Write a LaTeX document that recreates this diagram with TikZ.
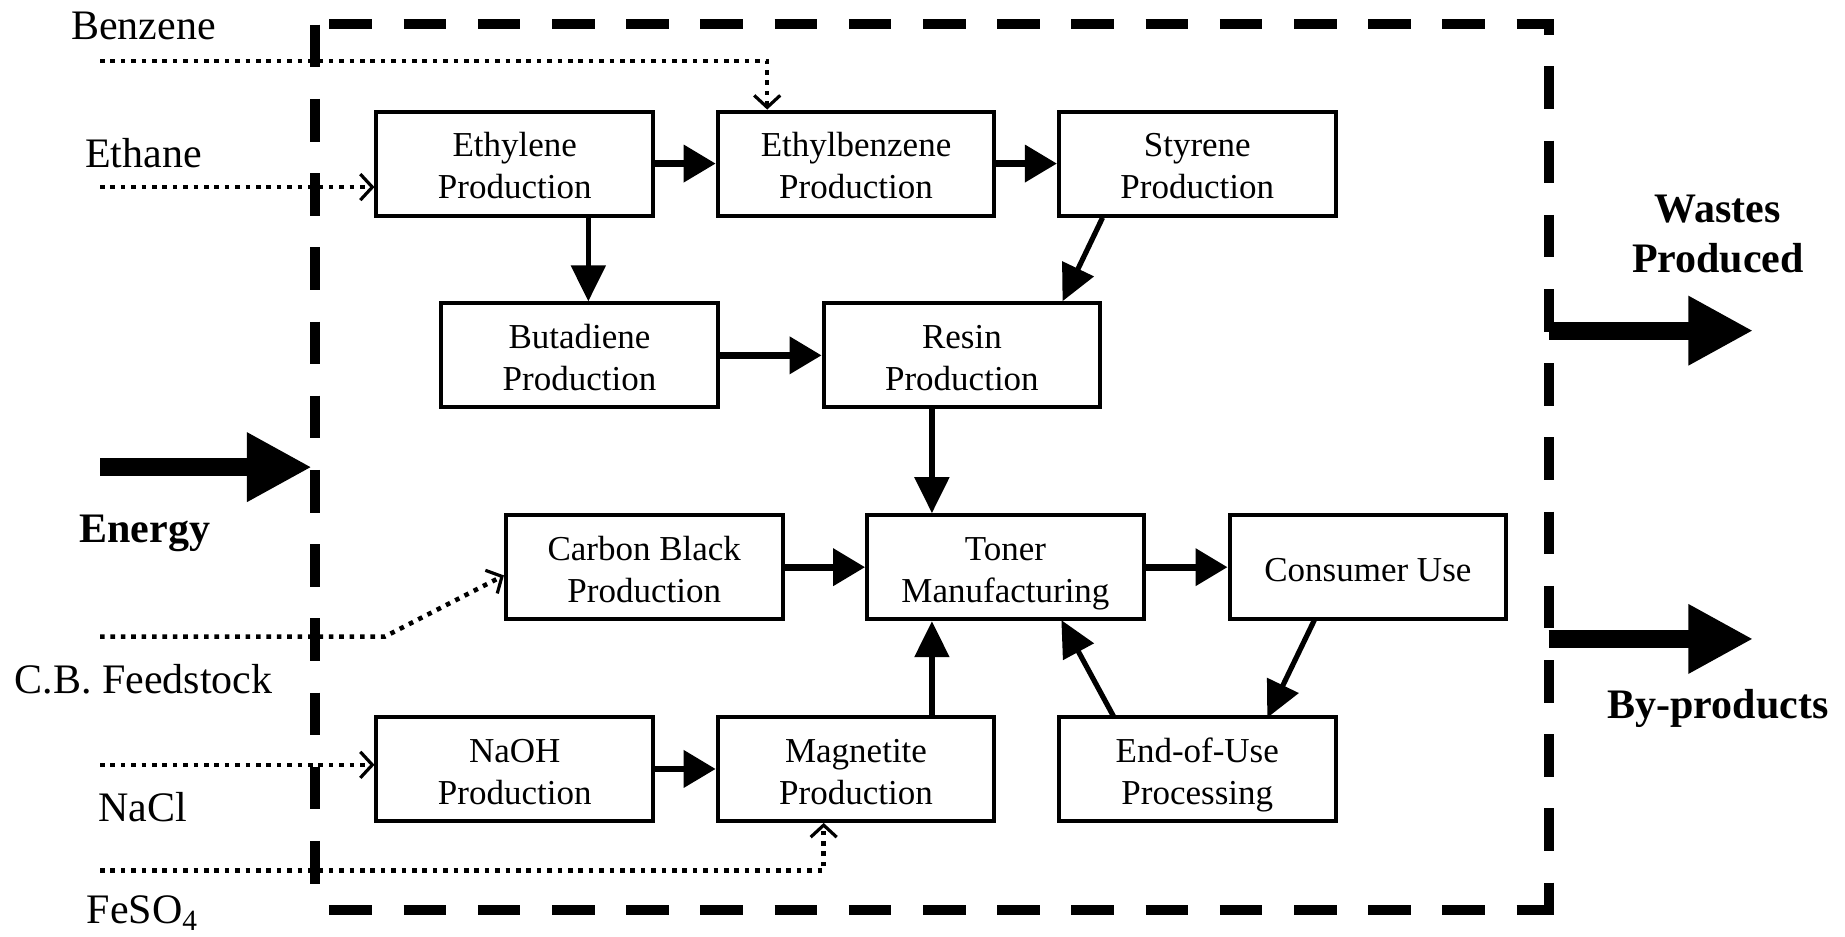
\documentclass[tikz,border=0pt]{standalone}
\usepackage{fontspec}
\setmainfont{Liberation Serif}
\usetikzlibrary{arrows.meta,calc}
\newcommand\bxt[1]{\rule{0pt}{18.2pt}#1\rule[-3.8pt]{0pt}{0pt}}
\begin{document}
\begin{tikzpicture}[x=0.58835pt,y=-0.58835pt,
  procbox/.style={draw,line width=2pt,minimum width=138.3pt,minimum height=52pt,inner sep=0pt,align=center,font=\fontsize{17.5}{21}\selectfont},
  lbl/.style={font=\fontsize{21}{24}\selectfont,inner sep=0pt,align=center},
  blbl/.style={font=\fontsize{21}{25}\selectfont\bfseries,inner sep=0pt,align=center},
  harrow/.style={line width=3.4pt,-{Triangle[length=16pt,width=18pt]}},
  varrow/.style={line width=2.6pt,-{Triangle[length=18pt,width=17pt]}},
  bigarrow/.style={line width=9pt,-{Triangle[length=32.5pt,width=32.5pt]}},
  dotline/.style={line width=2.3pt,dash pattern=on 2.3pt off 2.9pt,-{Straight Barb[length=6pt,width=13pt,line width=1.6pt]}},
  boundary/.style={line width=5pt,dash pattern=on 21.3pt off 15.8pt}]
\useasboundingbox (0,0) rectangle (1568,796);
% boundary
\draw[boundary] (280,20.5) -- (1316,20.5) -- (1316,773);
\draw[boundary] (280,773) -- (1316,773) -- (1316,750);
\draw[boundary] (268,21) -- (268,752);
% process boxes
\node[procbox] (eth) at (437.5,139) {\bxt{Ethylene\\Production}};
\node[procbox] (eb)  at (727.5,139) {\bxt{Ethylbenzene\\Production}};
\node[procbox] (sty) at (1017.5,139) {\bxt{Styrene\\Production}};
\node[procbox] (but) at (492.5,302) {\bxt{Butadiene\\Production}};
\node[procbox] (res) at (817.5,302) {\bxt{Resin\\Production}};
\node[procbox] (cb)  at (547.5,482) {\bxt{Carbon Black\\Production}};
\node[procbox] (ton) at (854.5,482) {\bxt{Toner\\Manufacturing}};
\node[procbox] (con) at (1162.5,482) {\bxt{Consumer Use}};
\node[procbox] (naoh) at (437.5,653.5) {\bxt{NaOH\\Production}};
\node[procbox] (mag) at (727.5,653.5) {\bxt{Magnetite\\Production}};
\node[procbox] (eou) at (1017.5,653.5) {\bxt{End-of-Use\\Processing}};
% outside labels
\node[lbl] (benz) at (122,22) {Benzene};
\node[lbl] (ethane) at (122,130) {Ethane};
\node[blbl] (energy) at (123,453) {Energy};
\node[lbl] (cbf) at (122,577) {C.B. Feedstock};
\node[lbl] (nacl) at (121,686) {NaCl};
\node[lbl] (feso) at (121,776) {FeSO\textsubscript{4}};
\node[blbl] (wastes) at (1460,199) {Wastes\\Produced};
\node[blbl] (byp) at (1460,602) {By-products};
% helper coordinates
\coordinate (x500) at (500,0);
\coordinate (x792) at (792,0);
\coordinate (bzs) at (85,52);
\coordinate (bzc) at (652,52);
\coordinate (ets) at (85,159);
\coordinate (cbs) at (85,541);
\coordinate (cbk) at (327,541);
\coordinate (ncs) at (85,650);
\coordinate (fes) at (85,740);
\coordinate (fec) at (700,740);
\coordinate (ens) at (85,397);
\coordinate (ene) at (265,397);
\coordinate (wss) at (1316,281);
\coordinate (wse) at (1490,281);
\coordinate (bps) at (1316,543);
\coordinate (bpe) at (1490,543);
\coordinate (s1) at (937,185);
\coordinate (r1) at (903,256);
\coordinate (c1) at (1117,527);
\coordinate (e1) at (1077,610);
\coordinate (e2) at (947,610);
\coordinate (t2) at (902,527);
% solid flows
\draw[harrow] (eth) -- (eb);
\draw[harrow] (eb) -- (sty);
\draw[harrow] (but) -- (res);
\draw[harrow] (cb) -- (ton);
\draw[harrow] (ton) -- (con);
\draw[harrow] (naoh) -- (mag);
\draw[varrow] (eth.south -| x500) -- (but.north -| x500);
\draw[varrow] (res.south -| x792) -- (ton.north -| x792);
\draw[varrow] (mag.north -| x792) -- (ton.south -| x792);
\draw[varrow] (s1) -- (r1);
\draw[varrow] (c1) -- (e1);
\draw[varrow] (e2) -- (t2);
% dotted inputs
\draw[dotline] (bzs) -- (bzc) -- (eb.north -| bzc);
\draw[dotline] (ets) -- (eth.west |- ets);
\draw[dotline] (cbs) -- (cbk) -- ($(cb.west)+(0,7)$);
\draw[dotline] (ncs) -- (naoh.west |- ncs);
\draw[dotline] (fes) -- (fec) -- (mag.south -| fec);
% big arrows
\draw[bigarrow] (ens) -- (ene);
\draw[bigarrow] (wss) -- (wse);
\draw[bigarrow] (bps) -- (bpe);
\end{tikzpicture}
\end{document}
